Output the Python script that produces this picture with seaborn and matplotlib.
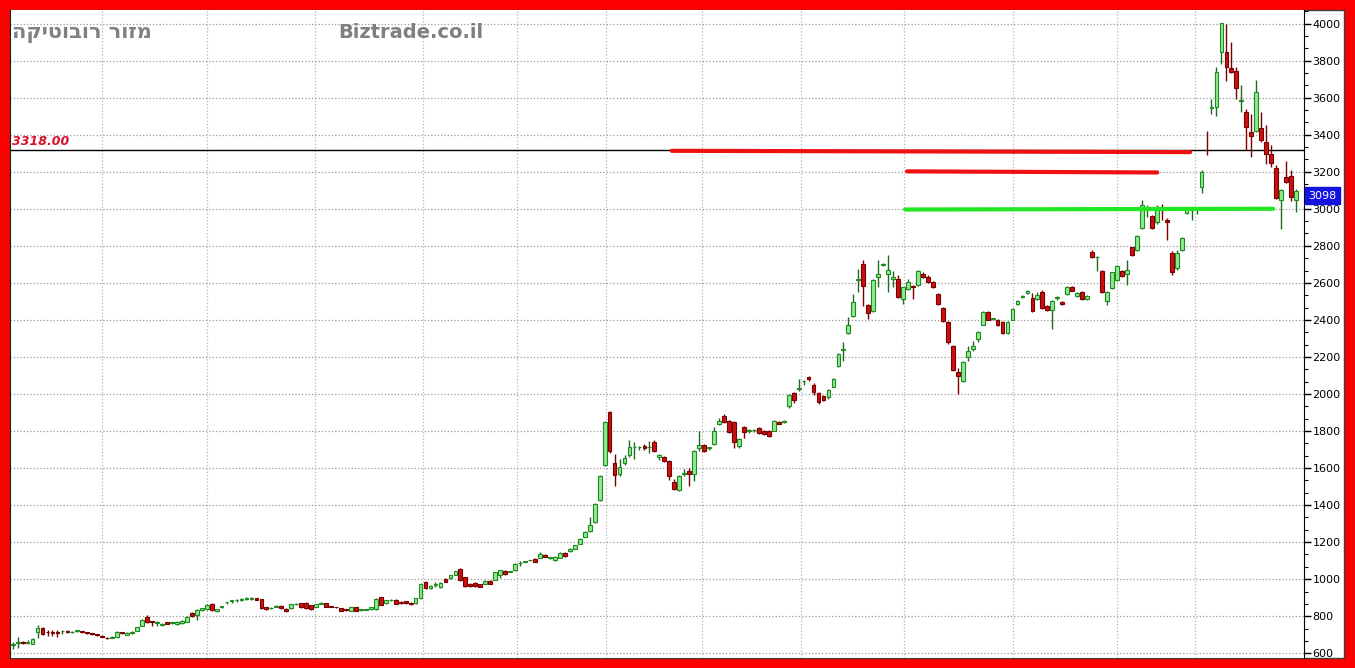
import matplotlib
matplotlib.use("Agg")
import matplotlib.pyplot as plt
import matplotlib.transforms as mtransforms
from matplotlib.patches import Rectangle
from matplotlib.ticker import MultipleLocator
import seaborn as sns
import pandas as pd

# daily candles
open_ = [645, 655, 662, 656, 651, 717, 735, 715, 712, 710,
         718, 722, 713, 720, 716, 712, 707, 702, 693, 683,
         684, 690, 713, 700, 709, 721, 748, 795, 770, 765,
         750, 766, 762, 759, 762, 771, 816, 807, 831, 838,
         867, 826, 850, 874, 881, 886, 890, 895, 892, 896,
         892, 847, 842, 852, 856, 838, 843, 864, 870, 870,
         858, 852, 868, 870, 853, 848, 843, 835, 829, 847,
         833, 836, 838, 838, 903, 870, 886, 888, 878, 880,
         870, 869, 896, 984, 951, 970, 956, 1000, 1005, 1024,
         1055, 1009, 975, 978, 973, 975, 991, 996, 1024, 1045,
         1040, 1047, 1085, 1094, 1102, 1109, 1115, 1133, 1116, 1102,
         1115, 1142, 1151, 1164, 1191, 1229, 1260, 1309, 1426, 1618,
         1904, 1629, 1566, 1625, 1669, 1712, 1712, 1720, 1712, 1741,
         1661, 1661, 1638, 1526, 1484, 1567, 1584, 1569, 1710, 1723,
         1706, 1728, 1837, 1882, 1855, 1850, 1720, 1823, 1800, 1804,
         1815, 1801, 1801, 1801, 1850, 1848, 1936, 2003, 2028, 2068,
         2089, 2048, 2004, 1990, 1981, 2039, 2152, 2238, 2327, 2422,
         2618, 2701, 2480, 2449, 2634, 2699, 2647, 2620, 2620, 2512,
         2566, 2584, 2587, 2647, 2629, 2602, 2539, 2462, 2386, 2260,
         2120, 2071, 2202, 2242, 2295, 2375, 2445, 2404, 2402, 2388,
         2330, 2402, 2486, 2525, 2544, 2517, 2513, 2552, 2477, 2456,
         2518, 2495, 2540, 2580, 2531, 2549, 2513, 2769, 2738, 2662,
         2501, 2572, 2617, 2665, 2647, 2791, 2776, 2898, 3000, 2961,
         2926, 3012, 2940, 2760, 2680, 2775, 2977, 2995, 2993, 3120,
         3320, 3546, 3548, 3847, 3847, 3758, 3743, 3580, 3524, 3413,
         3422, 3434, 3362, 3296, 3219, 3048, 3174, 3178, 3048]
high_ = [660, 687, 668, 672, 680, 752, 740, 727, 723, 723,
         725, 727, 720, 724, 720, 716, 711, 706, 697, 688,
         692, 720, 716, 712, 720, 744, 784, 807, 775, 775,
         762, 769, 768, 775, 779, 799, 820, 838, 846, 866,
         872, 841, 856, 879, 886, 891, 898, 904, 902, 900,
         895, 850, 849, 860, 860, 842, 868, 870, 873, 874,
         862, 868, 874, 873, 856, 851, 846, 838, 850, 850,
         837, 840, 852, 896, 906, 889, 891, 892, 882, 884,
         875, 900, 978, 990, 968, 987, 982, 1004, 1024, 1046,
         1060, 1013, 978, 982, 976, 995, 995, 1040, 1050, 1049,
         1046, 1088, 1096, 1098, 1106, 1112, 1145, 1137, 1120, 1124,
         1146, 1145, 1168, 1186, 1222, 1259, 1333, 1410, 1560, 1855,
         1910, 1674, 1651, 1670, 1752, 1739, 1720, 1730, 1748, 1750,
         1675, 1665, 1642, 1540, 1560, 1597, 1602, 1696, 1801, 1730,
         1716, 1822, 1870, 1890, 1860, 1855, 1760, 1828, 1810, 1812,
         1820, 1806, 1806, 1860, 1854, 1860, 2000, 2010, 2080, 2075,
         2095, 2060, 2010, 1995, 2025, 2085, 2220, 2280, 2415, 2540,
         2675, 2725, 2485, 2620, 2725, 2705, 2750, 2665, 2640, 2580,
         2620, 2590, 2670, 2660, 2640, 2608, 2545, 2468, 2392, 2265,
         2140, 2178, 2260, 2285, 2340, 2450, 2450, 2412, 2406, 2392,
         2392, 2465, 2510, 2535, 2562, 2545, 2550, 2560, 2482, 2510,
         2528, 2500, 2585, 2584, 2550, 2554, 2536, 2775, 2745, 2668,
         2556, 2660, 2694, 2670, 2726, 2796, 2858, 3050, 3018, 2966,
         3018, 3027, 2950, 2770, 2775, 2845, 3005, 3002, 3000, 3210,
         3420, 3595, 3765, 4004, 4000, 3900, 3765, 3670, 3540, 3510,
         3695, 3520, 3450, 3345, 3235, 3105, 3260, 3210, 3105]
low_ = [625, 627, 650, 648, 648, 680, 700, 694, 694, 690,
        705, 708, 708, 712, 708, 705, 700, 694, 686, 676,
        680, 688, 705, 698, 706, 718, 745, 765, 745, 745,
        746, 756, 757, 755, 758, 768, 798, 780, 828, 835,
        830, 822, 846, 866, 873, 878, 882, 890, 889, 885,
        840, 835, 838, 848, 840, 822, 840, 860, 846, 840,
        835, 849, 864, 848, 848, 843, 826, 830, 826, 826,
        830, 832, 836, 835, 858, 867, 882, 864, 865, 868,
        862, 866, 893, 945, 947, 956, 953, 984, 1000, 1020,
        990, 958, 960, 960, 956, 972, 972, 993, 1005, 1025,
        1036, 1044, 1073, 1090, 1098, 1090, 1112, 1117, 1108, 1099,
        1112, 1121, 1148, 1161, 1188, 1226, 1256, 1305, 1420, 1612,
        1680, 1502, 1556, 1618, 1660, 1650, 1700, 1700, 1680, 1688,
        1645, 1634, 1538, 1484, 1478, 1556, 1502, 1530, 1690, 1685,
        1700, 1722, 1832, 1842, 1790, 1710, 1710, 1760, 1790, 1795,
        1784, 1778, 1765, 1798, 1836, 1845, 1925, 1950, 2018, 2050,
        2070, 1995, 1945, 1960, 1975, 2035, 2148, 2180, 2322, 2418,
        2550, 2475, 2404, 2445, 2580, 2690, 2553, 2580, 2520, 2485,
        2560, 2515, 2582, 2625, 2598, 2570, 2480, 2390, 2272, 2125,
        2000, 2066, 2180, 2230, 2282, 2370, 2398, 2398, 2366, 2325,
        2325, 2398, 2482, 2518, 2540, 2445, 2508, 2460, 2450, 2350,
        2505, 2482, 2535, 2554, 2526, 2508, 2508, 2732, 2665, 2545,
        2480, 2567, 2612, 2630, 2590, 2744, 2771, 2893, 2958, 2893,
        2920, 2940, 2833, 2640, 2670, 2770, 2970, 2940, 2970, 3085,
        3290, 3510, 3500, 3780, 3690, 3735, 3595, 3524, 3320, 3280,
        3415, 3360, 3240, 3225, 3055, 2890, 3140, 3040, 2985]
close_ = [652, 660, 655, 660, 676, 735, 705, 712, 710, 708,
          721, 717, 716, 721, 714, 710, 705, 699, 690, 680,
          688, 717, 709, 709, 717, 740, 780, 771, 768, 768,
          759, 759, 764, 771, 775, 795, 802, 834, 843, 861,
          834, 838, 853, 876, 883, 888, 892, 897, 899, 888,
          843, 838, 845, 856, 843, 826, 865, 867, 849, 843,
          838, 865, 870, 852, 852, 847, 829, 834, 847, 829,
          834, 838, 849, 892, 862, 885, 888, 867, 869, 872,
          868, 896, 975, 951, 964, 972, 978, 987, 1020, 1042,
          997, 964, 964, 964, 960, 991, 975, 1036, 1047, 1029,
          1042, 1084, 1087, 1096, 1104, 1093, 1138, 1120, 1118, 1120,
          1142, 1124, 1164, 1182, 1218, 1255, 1291, 1405, 1557, 1850,
          1694, 1560, 1607, 1656, 1714, 1716, 1716, 1710, 1716, 1692,
          1672, 1638, 1556, 1488, 1556, 1571, 1569, 1692, 1723, 1692,
          1714, 1801, 1855, 1846, 1796, 1738, 1756, 1796, 1802, 1806,
          1788, 1783, 1774, 1855, 1840, 1850, 1994, 1968, 2032, 2071,
          2080, 2008, 1954, 1968, 2022, 2080, 2215, 2242, 2372, 2498,
          2622, 2584, 2436, 2616, 2647, 2701, 2670, 2633, 2526, 2575,
          2602, 2575, 2665, 2629, 2602, 2575, 2485, 2395, 2278, 2129,
          2098, 2174, 2233, 2257, 2335, 2445, 2402, 2408, 2370, 2330,
          2388, 2459, 2504, 2528, 2558, 2450, 2535, 2465, 2456, 2504,
          2520, 2486, 2576, 2558, 2545, 2513, 2531, 2737, 2742, 2549,
          2552, 2656, 2689, 2638, 2671, 2749, 2853, 3023, 3005, 2898,
          3012, 2994, 2926, 2660, 2760, 2840, 2998, 2998, 2996, 3201,
          3316, 3550, 3740, 4004, 3767, 3740, 3650, 3585, 3443, 3393,
          3632, 3372, 3296, 3249, 3057, 3099, 3147, 3066, 3098]

# candle index where each month starts (vertical grid)
month_starts = [18, 39, 60.8, 82.5, 101.4, 119.3, 138.6, 158.5, 179.2, 201.1, 222, 237.7]

ref_level = 3318.00
last_price = 3098

# hand-drawn lines on the chart: candle index span and price at each end
red_top_x = [132.5, 236.7]
red_top_y = [3313, 3306]
red_low_x = [179.8, 230.1]
red_low_y = [3202, 3196]
green_x = [179.4, 253.4]
green_y = [2996, 3000]

title_he = 'מזור רובוטיקה'
site = 'Biztrade.co.il'

df = pd.DataFrame({'open': open_, 'high': high_, 'low': low_, 'close': close_})
df['idx'] = range(len(df))
df['up'] = df['close'] >= df['open']
df['bottom'] = df[['open', 'close']].min(axis=1)
df['height'] = (df['close'] - df['open']).abs().clip(lower=4)

sns.set_style('white')
plt.rcParams['font.family'] = ['DejaVu Sans']

W, H = 1355, 668
fig = plt.figure(figsize=(W / 100, H / 100), dpi=100, facecolor='#ff0000')
# white panel inside the red frame
fig.patches.append(Rectangle((9.5 / W, 10.5 / H), 1334.5 / W, 648 / H,
                             transform=fig.transFigure, facecolor='white',
                             edgecolor='#404040', lw=1, zorder=-5))
ax = fig.add_axes([9.5 / W, 10.5 / H, 1294.5 / W, 648 / H])
ax.set_facecolor('white')

# wicks and bodies
wick_col = ['#1d6b1d' if u else '#780000' for u in df['up']]
body_col = ['#90ea90' if u else '#cc1010' for u in df['up']]
edge_col = ['#1f8a1f' if u else '#7a0000' for u in df['up']]
ax.vlines(df['idx'], df['low'], df['high'], colors=wick_col, lw=1, zorder=2)
ax.bar(df['idx'], df['height'], bottom=df['bottom'], width=0.76,
       color=body_col, edgecolor=edge_col, lw=0.8, zorder=3)

ax.axhline(ref_level, color='black', lw=1, zorder=1.5)
sns.lineplot(x=red_top_x, y=red_top_y, color='#ee1111', lw=3, ax=ax, zorder=4, legend=False)
sns.lineplot(x=red_low_x, y=red_low_y, color='#ee1111', lw=3, ax=ax, zorder=4, legend=False)
sns.lineplot(x=green_x, y=green_y, color='#22e622', lw=3, ax=ax, zorder=4, legend=False)

ax.set_xlim(-0.64, 259.6)
ax.set_ylim(577, 4076)

ax.yaxis.tick_right()
ax.set_yticks(range(600, 4001, 200))
ax.yaxis.set_minor_locator(MultipleLocator(200 / 3))
ax.tick_params(axis='y', which='major', direction='out', length=5, width=1,
               pad=1, labelsize=8, colors='black')
ax.tick_params(axis='y', which='minor', direction='out', length=3, width=0.8, colors='black')
ax.set_xticks(month_starts)
ax.tick_params(axis='x', length=0, labelbottom=False)
ax.grid(axis='y', which='major', ls=':', color='#9a9a9a', lw=0.9)
ax.grid(axis='x', ls=':', color='#b5b5b5', lw=0.9)
ax.set_axisbelow(True)
for s in ['top', 'bottom']:
    ax.spines[s].set_visible(False)
ax.spines['right'].set_color('black')
ax.spines['left'].set_color('#202020')

blend = mtransforms.blended_transform_factory(ax.transAxes, ax.transData)

# reference level label
ax.text(0.002, ref_level + 12, f'{ref_level:.2f}', transform=blend,
        color='#d8102c', fontsize=9, fontweight='bold', style='italic', ha='left', va='bottom')

# last price tag on the axis
ax.text(1.0035, last_price, str(last_price), transform=blend,
        color='white', fontsize=8, ha='left', va='top', zorder=6, clip_on=False,
        bbox=dict(boxstyle='square,pad=0.3', facecolor='#1414e0', edgecolor='#1414e0'))

fig.text(12 / W, 1 - 33 / H, title_he[::-1], color='#808080', fontsize=15,
         fontweight='bold', ha='left', va='center')
fig.text(338 / W, 1 - 33 / H, site, color='#7f7f7f', fontsize=14,
         fontweight='bold', ha='left', va='center')

plt.savefig('out.png', dpi=100, facecolor=fig.get_facecolor())
